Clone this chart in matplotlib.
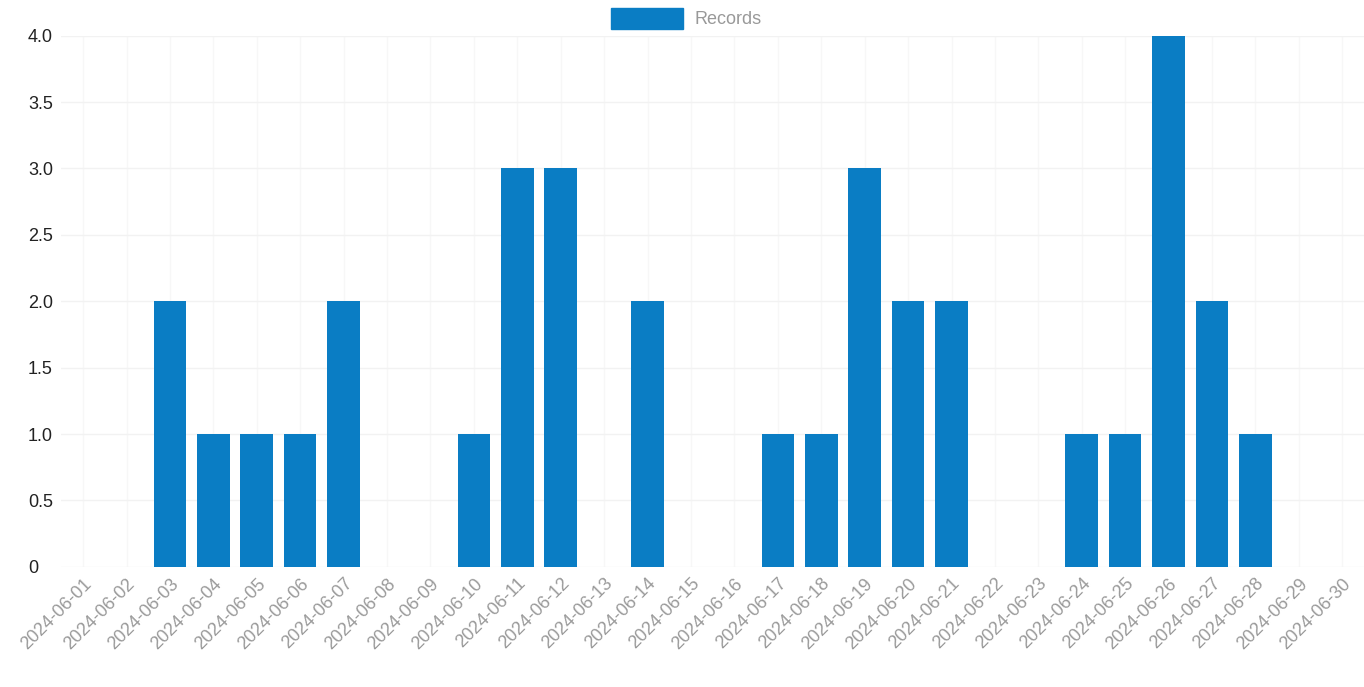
import matplotlib
matplotlib.use("Agg")
import matplotlib.pyplot as plt
from matplotlib.patches import Patch

dates = ["2024-06-%02d" % d for d in range(1, 31)]
records = [0, 0, 2, 1, 1, 1, 2, 0, 0, 1, 3, 3, 0, 2, 0, 0, 1, 1, 3, 2, 2, 0, 0, 1, 1, 4, 2, 1, 0, 0]
y_ticks = [0, 0.5, 1.0, 1.5, 2.0, 2.5, 3.0, 3.5, 4.0]
y_labels = ["0", "0.5", "1.0", "1.5", "2.0", "2.5", "3.0", "3.5", "4.0"]

bar_color = "#0a7dc4"

fig = plt.figure(figsize=(13.64, 6.87), dpi=100)
ax = fig.add_axes([0.045, 0.175, 0.955, 0.773])
x = list(range(len(dates)))
ax.bar(x, records, width=0.75, color=bar_color, zorder=3)
ax.set_xlim(-0.5, len(dates) - 0.5)
ax.set_ylim(0, 4)
ax.set_yticks(y_ticks)
ax.set_yticklabels(y_labels, fontsize=13, color="#222222", family="Liberation Sans")
ax.set_xticks(x)
ax.set_xticklabels(dates, rotation=45, ha="right", rotation_mode="anchor",
                   fontsize=13, color="#9a9a9a", family="Liberation Sans")
ax.tick_params(axis="x", length=0, pad=6)
ax.tick_params(axis="y", length=0, pad=24)
for lbl in ax.get_yticklabels():
    lbl.set_horizontalalignment("left")
ax.grid(True, axis="y", color="#f2f2f2", linewidth=1, zorder=0)
ax.grid(True, axis="x", color="#f7f7f7", linewidth=1, zorder=0)
for s in ax.spines.values():
    s.set_visible(False)

handles = [Patch(facecolor=bar_color, edgecolor=bar_color, label="Records")]
fig.legend(handles=handles, loc="upper center", bbox_to_anchor=(0.503, 1.012),
           frameon=False, handlelength=4, handleheight=1.4, handletextpad=0.6,
           labelcolor="#999999", prop={"family": "Liberation Sans", "size": 13})

fig.savefig("out.png", dpi=100, facecolor="white")
